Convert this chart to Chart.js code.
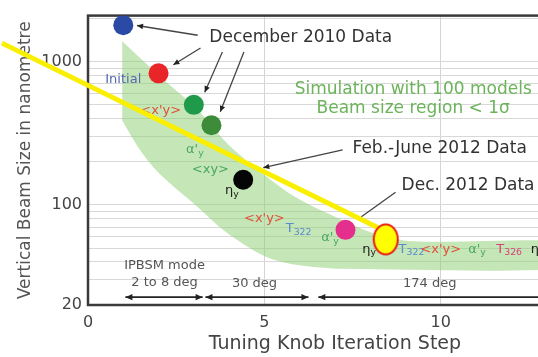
<!DOCTYPE html>
<html><head><meta charset="utf-8">
<script src="https://cdn.jsdelivr.net/npm/chart.js@4.4.1/dist/chart.umd.min.js"></script>
<style>
html,body{margin:0;padding:0;background:#fff;overflow:hidden;width:538px;height:357px}
#wrap{position:relative;width:600px;height:357px}
</style>
</head><body><div id="wrap"><canvas id="c" width="600" height="357"></canvas></div>
<script>
// ---- data ----
const stepX = [1, 2, 3, 3.5, 4.4, 7.3];
const beamY = [1800, 830, 500, 360, 150, 67];
const pointColors = ['#2b4aa6', '#e8262a', '#1f9a4a', '#3d8c3a', '#050505', '#e52f8c'];
const dec2012X = [8.44];
const dec2012Y = [57.5];
const bandX = [0.97, 2.14, 3.08, 3.94, 4.92, 5.89, 7.0, 8.11, 9.22, 14.2, 14.2, 7.28, 5.89, 5.0, 3.89, 3.11, 2.0, 1.44, 0.97];
const bandY = [1390, 752, 469, 270, 168, 113, 82.6, 63.2, 55.7, 54, 37, 35.8, 38.2, 44, 65.3, 96.8, 168, 249, 388];
const highlightX = [-2.44, 8.3];
const highlightY = [1349, 68];
const yTicks = [20, 30, 40, 50, 60, 70, 80, 90, 100, 200, 300, 400, 500, 600, 700, 800, 900, 1000, 2000];
const yLabels = [20, 100, 1000];

// small labels (text with "_" = subscript part)
const labelX = [1.0, 2.06, 3.03, 3.47, 4.08, 5.0, 5.97, 6.86, 7.97, 9.17, 10.0, 11.03, 11.94, 12.75];
const labelY = [752, 454, 242, 176, 126, 80, 68.4, 59.4, 49.1, 49.1, 49.1, 49.1, 49.1, 49.1];
const labelText = ['Initial', "<x'y>", "α'_y", '<xy>', 'η_y', "<x'y>", 'T_322', "α'_y", 'η_y', 'T_322', "<x'y>", "α'_y", 'T_326', 'η_y'];
const labelColor = ['#5468b0', '#e0503a', '#4aa860', '#4aa860', '#222222', '#e0503a', '#5a8ad0', '#4aa860', '#222222', '#5a8ad0', '#e0503a', '#4aa860', '#d8407a', '#222222'];

// notes
const noteX = [3.44, 9.22, 9.22, 7.5, 8.89, 2.17, 2.17, 4.72, 9.69];
const noteY = [1482, 643, 469, 249, 137, 37.6, 28.7, 28.3, 28.3];
const noteText = ['December 2010 Data', 'Simulation with 100 models', 'Beam size region < 1σ', 'Feb.-June 2012 Data', 'Dec. 2012 Data', 'IPBSM mode', '2 to 8 deg', '30 deg', '174 deg'];
const noteAlign = ['left', 'center', 'center', 'left', 'left', 'center', 'center', 'center', 'center'];
const noteColor = ['#333333', '#6bb45a', '#6bb45a', '#333333', '#333333', '#555555', '#555555', '#555555', '#555555'];
const noteSize = [17, 17, 17, 17, 17, 13, 13, 13, 13];

// pointer arrows
const arrowFromX = [3.11, 3.19, 3.81, 4.42, 7.22, 8.72];
const arrowFromY = [1531, 1247, 1170, 1170, 242, 122.6];
const arrowToX = [1.39, 2.42, 3.31, 3.75, 4.97, 7.75];
const arrowToY = [1791, 953, 613, 447, 182, 82.7];
const arrowHead = [true, true, true, true, true, false];

// mode spans (double arrows)
const spanX0 = [1.06, 3.33, 6.53];
const spanX1 = [3.25, 6.25, 14.5];
const spanY = [22.7, 22.7, 22.7];

const FONT = 'DejaVu Sans';

// ellipse marker
const ell = document.createElement('canvas');
ell.width = 28; ell.height = 33;
(function () {
  const g = ell.getContext('2d');
  g.beginPath();
  g.ellipse(14, 16.5, 12, 15, 0, 0, Math.PI * 2);
  g.fillStyle = '#ffff00'; g.fill();
  g.lineWidth = 2; g.strokeStyle = '#e8201a'; g.stroke();
})();

function drawRich(ctx, x, y, str, size, color, align) {
  const idx = str.indexOf('_');
  const parts = idx < 0 ? [[str, false]] : [[str.slice(0, idx), false], [str.slice(idx + 1), true]];
  const widths = parts.map(([t, s]) => { ctx.font = (s ? size * 0.72 : size) + 'px "' + FONT + '"'; return ctx.measureText(t).width; });
  const total = widths.reduce((a, b) => a + b, 0);
  let cx = align === 'left' ? x : x - total / 2;
  ctx.fillStyle = color;
  ctx.textBaseline = 'middle';
  ctx.textAlign = 'left';
  parts.forEach(([t, s], i) => {
    ctx.font = (s ? size * 0.72 : size) + 'px "' + FONT + '"';
    ctx.fillText(t, cx, s ? y + size * 0.3 : y);
    cx += widths[i];
  });
}

function head(ctx, x0, y0, x1, y1, len, w) {
  const a = Math.atan2(y1 - y0, x1 - x0);
  ctx.beginPath();
  ctx.moveTo(x1, y1);
  ctx.lineTo(x1 - len * Math.cos(a) + w * Math.sin(a), y1 - len * Math.sin(a) - w * Math.cos(a));
  ctx.lineTo(x1 - len * Math.cos(a) - w * Math.sin(a), y1 - len * Math.sin(a) + w * Math.cos(a));
  ctx.closePath();
  ctx.fill();
}

const boxPlugin = {
  id: 'box',
  beforeDatasetsDraw(chart) {
    const { ctx, chartArea: a } = chart;
    ctx.save();
    ctx.strokeStyle = '#3a3a3a';
    ctx.lineWidth = 2.5;
    ctx.strokeRect(a.left, a.top, a.right - a.left, a.bottom - a.top);
    ctx.restore();
  },
  afterDatasetDraw(chart, args) {
    if (args.index !== 0) return;
    const { ctx, scales: { x, y } } = chart;
    ctx.save();
    // small labels
    labelText.forEach((t, i) => drawRich(ctx, x.getPixelForValue(labelX[i]), y.getPixelForValue(labelY[i]), t, 13, labelColor[i], 'center'));
    // notes
    noteText.forEach((t, i) => drawRich(ctx, x.getPixelForValue(noteX[i]), y.getPixelForValue(noteY[i]), t, noteSize[i], noteColor[i], noteAlign[i]));
    // arrows
    ctx.strokeStyle = '#444'; ctx.fillStyle = '#222'; ctx.lineWidth = 1.3;
    arrowFromX.forEach((v, i) => {
      const x0 = x.getPixelForValue(v), y0 = y.getPixelForValue(arrowFromY[i]);
      const x1 = x.getPixelForValue(arrowToX[i]), y1 = y.getPixelForValue(arrowToY[i]);
      ctx.beginPath(); ctx.moveTo(x0, y0); ctx.lineTo(x1, y1); ctx.stroke();
      if (arrowHead[i]) head(ctx, x0, y0, x1, y1, 6, 2.8);
    });
    // spans
    ctx.strokeStyle = '#222'; ctx.lineWidth = 1.6;
    spanX0.forEach((v, i) => {
      const x0 = x.getPixelForValue(v), x1 = x.getPixelForValue(spanX1[i]), yy = y.getPixelForValue(spanY[i]);
      ctx.beginPath(); ctx.moveTo(x0, yy); ctx.lineTo(x1, yy); ctx.stroke();
      head(ctx, x1, yy, x0, yy, 7, 3.2);
      head(ctx, x0, yy, x1, yy, 7, 3.2);
    });
    ctx.restore();
  }
};

new Chart(document.getElementById('c'), {
  type: 'scatter',
  data: {
    datasets: [
      {
        label: 'Simulation band',
        data: bandX.map((v, i) => ({ x: v, y: bandY[i] })),
        showLine: true, fill: 'shape', tension: 0.3,
        backgroundColor: 'rgba(140,205,110,0.5)', borderWidth: 0, borderColor: 'rgba(0,0,0,0)',
        pointRadius: 0, order: 10
      },
      {
        label: 'Data',
        data: stepX.map((v, i) => ({ x: v, y: beamY[i] })),
        pointRadius: 10, pointHoverRadius: 10,
        backgroundColor: pointColors, borderColor: pointColors, borderWidth: 0,
        order: 5
      },
      {
        label: 'Highlight',
        data: highlightX.map((v, i) => ({ x: v, y: highlightY[i] })),
        showLine: true, borderColor: '#fbef00', borderWidth: 5, pointRadius: 0,
        clip: false, order: 2
      },
      {
        label: 'Dec. 2012',
        data: dec2012X.map((v, i) => ({ x: v, y: dec2012Y[i] })),
        pointStyle: ell, pointRadius: 14, order: 1
      }
    ]
  },
  options: {
    responsive: false, animation: false, devicePixelRatio: 1,
    layout: { padding: { top: 10, right: 8, left: 0, bottom: 0 } },
    plugins: { legend: { display: false }, tooltip: { enabled: false } },
    scales: {
      x: {
        type: 'linear', min: 0, max: 14,
        ticks: { stepSize: 5, font: { family: FONT, size: 16 }, color: '#444', padding: 8, maxRotation: 0 },
        grid: { color: '#d4d4d4', drawTicks: false },
        border: { display: false },
        title: { display: true, text: 'Tuning Knob Iteration Step', font: { family: FONT, size: 19 }, color: '#444', padding: { top: 0, bottom: 2 } },
        afterFit(s) { s.height = 52; }
      },
      y: {
        type: 'logarithmic', min: 20, max: 2100,
        afterBuildTicks(s) { s.ticks = yTicks.map(v => ({ value: v })); },
        ticks: { autoSkip: false, font: { family: FONT, size: 16 }, color: '#444', padding: 6,
          callback: (v) => yLabels.includes(v) ? String(v) : '' },
        grid: { color: '#d8d8d8', drawTicks: false },
        border: { display: false },
        title: { display: true, text: 'Vertical Beam Size in nanometre', font: { family: FONT, size: 17 }, color: '#555', padding: { top: 15, bottom: 0 } },
        afterFit(s) { s.width = 88; }
      }
    }
  },
  plugins: [boxPlugin]
});
</script>
</body></html>
